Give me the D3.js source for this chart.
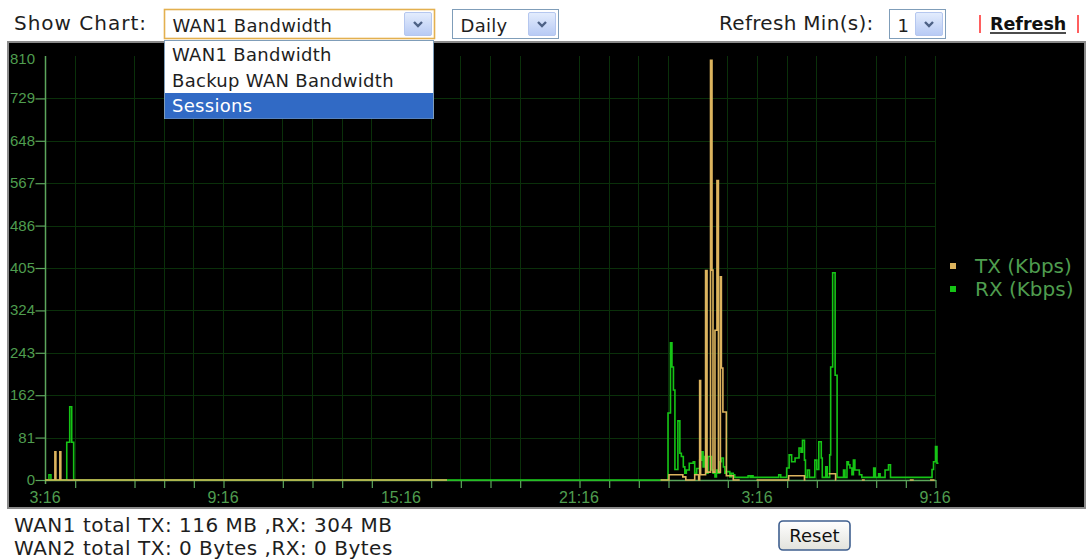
<!DOCTYPE html>
<html>
<head>
<meta charset="utf-8">
<script src="https://cdn.jsdelivr.net/npm/d3@7"></script>
<style>
  html, body { margin: 0; padding: 0; background: #fff; }
  svg { display: block; }
  text { font-family: "DejaVu Sans", sans-serif; }
</style>
</head>
<body>
<svg id="page" width="1088" height="560"></svg>
<script>
// ---- data -------------------------------------------------------------
// minutes after 3:16 (the left edge of the time axis)
const yTickValues = [0, 81, 162, 243, 324, 405, 486, 567, 648, 729, 810];
const xLabelMinutes = [0, 360, 720, 1080, 1440, 1800];
const xLabels = ["3:16", "9:16", "15:16", "21:16", "3:16", "9:16"];
const hourTickMinutes = [60, 180, 240, 300, 360, 480, 540, 600, 660, 780, 840, 900, 960,
  1080, 1140, 1200, 1260, 1380, 1440, 1500, 1560, 1680, 1740, 1800];

const seriesNames = ["TX (Kbps)", "RX (Kbps)"];

// [minute, Kbps]; null = no sample
const txPoints = [
  [0, 0], [20, 54], [22, 0], [30, 54], [32, 0], [813, 0], [814, null],
  [1245, 0], [1262, 10], [1290, 6], [1296, 0], [1314, 10], [1322, 0], [1324, 190], [1326, 10],
  [1336, 400], [1339, 15], [1346, 802], [1349, 401], [1351, 15], [1355, 286], [1359, 572],
  [1362, 15], [1366, 388], [1368, 214], [1371, 130], [1378, 8], [1392, 0], [1405, 0], [1406, null],
  [1439, 0], [1504, 8], [1536, 0], [1538, 0], [1539, null],
  [1585, 12], [1599, 0], [1600, 0], [1601, null],
  [1652, 0], [1658, 0], [1659, null],
  [1749, 0], [1757, 0], [1758, null],
  [1790, 0], [1799, 0], [1800, null]
];

const rxPoints = [
  [0, 0], [8, 10], [12, 0], [44, 72], [50, 140], [54, 72], [58, 0],
  [1257, 0], [1260, 128], [1265, 262], [1268, 216], [1271, 172], [1274, 20], [1280, 113],
  [1284, 51], [1287, 45], [1291, 25], [1294, 13], [1297, 19], [1303, 32], [1311, 35], [1314, 13],
  [1318, 22], [1324, 38], [1328, 54], [1331, 25], [1334, 45], [1338, 13], [1341, 45], [1348, 19],
  [1351, 13], [1355, 6], [1358, 19], [1361, 13], [1365, 35], [1368, 42], [1372, 25], [1375, 13],
  [1378, 16], [1385, 6], [1388, 13], [1392, 10], [1395, 5], [1422, 8], [1426, 5], [1429, 8],
  [1432, 5], [1484, 10], [1488, 5],
  [1500, 23], [1505, 48], [1510, 35], [1517, 42], [1525, 61], [1529, 53], [1532, 76], [1536, 38],
  [1538, 5], [1542, 19], [1546, 5], [1557, 38], [1561, 20], [1565, 73], [1570, 42], [1572, 5],
  [1579, 25], [1582, 5], [1587, 48], [1589, 216], [1593, 396], [1598, 200], [1602, 5], [1615, 19],
  [1618, 5], [1622, 35], [1625, 29], [1628, 23], [1632, 10], [1635, 38], [1638, 19], [1642, 19],
  [1647, 10], [1652, 5], [1676, 23], [1679, 5], [1686, 12], [1689, 5], [1699, 19], [1706, 29],
  [1710, 5], [1794, 20], [1797, 35], [1801, 64], [1804, 32], [1807, 32]
];

const chartOptions = ["WAN1 Bandwidth", "Backup WAN Bandwidth", "Sessions"];
const selectedChart = "WAN1 Bandwidth";
const highlightedOption = "Sessions";
const periodOption = "Daily";
const refreshMinutes = "1";
const totalsLines = ["WAN1 total TX: 116 MB ,RX: 304 MB", "WAN2 total TX: 0 Bytes ,RX: 0 Bytes"];

// ---- styles -------------------------------------------------------------
const TX_COLOR = "#dcb45e";
const RX_COLOR = "#16c416";
const AXIS_COLOR = "#5ca65c";
const LABEL_COLOR = "#4f9d4f";
const GRID_COLOR = "#0a300a";

const svg = d3.select("#page");
const defs = svg.append("defs");
const btnGrad = defs.append("linearGradient").attr("id", "btnGrad")
  .attr("x1", 0).attr("y1", 0).attr("x2", 0).attr("y2", 1);
btnGrad.append("stop").attr("offset", "0%").attr("stop-color", "#e4edfd");
btnGrad.append("stop").attr("offset", "100%").attr("stop-color", "#b7caf4");
const resetGrad = defs.append("linearGradient").attr("id", "resetGrad")
  .attr("x1", 0).attr("y1", 0).attr("x2", 0).attr("y2", 1);
resetGrad.append("stop").attr("offset", "0%").attr("stop-color", "#ffffff");
resetGrad.append("stop").attr("offset", "100%").attr("stop-color", "#e2e2dc");

// ---- chart panel ---------------------------------------------------------
svg.append("rect").attr("x", 8).attr("y", 42).attr("width", 1077).attr("height", 466)
  .attr("fill", "#000").attr("stroke", "#8a8a8a").attr("stroke-width", 2);

const x = d3.scaleLinear().domain([0, 1800]).range([45, 935]);
const y = d3.scaleLinear().domain([0, 810]).range([480, 56]);

const plot = svg.append("g");

// grid
plot.append("g").selectAll("line").data(hourTickMinutes).join("line")
  .attr("x1", d => Math.round(x(d)) + 0.5).attr("x2", d => Math.round(x(d)) + 0.5)
  .attr("y1", y(810)).attr("y2", y(0))
  .attr("stroke", GRID_COLOR).attr("stroke-width", 1);
plot.append("g").selectAll("line").data(yTickValues.filter(v => v > 0 && v < 810)).join("line")
  .attr("x1", x(0)).attr("x2", x(1800))
  .attr("y1", d => Math.round(y(d)) + 0.5).attr("y2", d => Math.round(y(d)) + 0.5)
  .attr("stroke", GRID_COLOR).attr("stroke-width", 1);

// x axis: hourly ticks
const xAxis = d3.axisBottom(x).tickValues(hourTickMinutes).tickSize(8).tickFormat("").tickSizeOuter(0);
const gx = plot.append("g").attr("transform", `translate(0.5,${y(0)})`).call(xAxis);
gx.select(".domain").attr("stroke", AXIS_COLOR).attr("stroke-width", 1.5);
gx.selectAll(".tick line").attr("stroke", AXIS_COLOR).attr("stroke-width", 1.2);

// x labels
plot.append("g").selectAll("text").data(xLabelMinutes).join("text")
  .attr("x", d => x(d)).attr("y", 503)
  .attr("text-anchor", "middle")
  .style("font-family", "'Liberation Sans', Arial, sans-serif")
  .style("font-size", "16px")
  .attr("fill", LABEL_COLOR)
  .text((d, i) => xLabels[i]);

// y axis
const yAxis = d3.axisLeft(y).tickValues(yTickValues.filter(v => v < 810)).tickSize(10)
  .tickFormat("").tickSizeOuter(0);
const gy = plot.append("g").attr("transform", `translate(${x(0) + 0.5},0)`).call(yAxis);
gy.select(".domain").attr("stroke", AXIS_COLOR).attr("stroke-width", 1.5)
  .attr("d", `M0,${y(810)}V${y(0) + 4}`);
gy.selectAll(".tick line").attr("stroke", AXIS_COLOR).attr("stroke-width", 1.2);

plot.append("g").selectAll("text").data(yTickValues).join("text")
  .attr("x", 35).attr("y", d => Math.max(y(d), 59) + 5)
  .attr("text-anchor", "end")
  .style("font-family", "'Liberation Sans', Arial, sans-serif")
  .style("font-size", "15px")
  .attr("fill", LABEL_COLOR)
  .text(d => d);

// series
const line = d3.line()
  .defined(d => d[1] != null)
  .x(d => x(d[0]))
  .y(d => y(d[1]))
  .curve(d3.curveStepAfter);

plot.append("path").datum(rxPoints).attr("d", line)
  .attr("fill", "none").attr("stroke", RX_COLOR).attr("stroke-width", 1.6);
plot.append("path").datum(txPoints).attr("d", line)
  .attr("fill", "none").attr("stroke", TX_COLOR).attr("stroke-width", 1.6);

// legend
const legend = svg.append("g").attr("transform", "translate(950,266)");
const legendColors = [TX_COLOR, RX_COLOR];
const li = legend.selectAll("g").data(seriesNames).join("g")
  .attr("transform", (d, i) => `translate(0,${i * 23})`);
li.append("rect").attr("x", 0).attr("y", -3).attr("width", 6).attr("height", 6)
  .attr("fill", (d, i) => legendColors[i]);
li.append("text").attr("x", 25).attr("y", 7)
  .style("font-size", "20px").attr("fill", LABEL_COLOR).text(d => d);

// ---- controls above the chart --------------------------------------------
const TEXT_DARK = "#1e1e1e";

function dropButton(g, bx, by, bw, bh) {
  g.append("rect").attr("x", bx).attr("y", by).attr("width", bw).attr("height", bh)
    .attr("rx", 1.5).attr("fill", "url(#btnGrad)").attr("stroke", "#b5c7ef").attr("stroke-width", 1);
  const cx = bx + bw / 2, cy = by + bh / 2;
  g.append("path").attr("d", `M${cx - 4},${cy - 2}L${cx},${cy + 2}L${cx + 4},${cy - 2}`)
    .attr("fill", "none").attr("stroke", "#4d6185").attr("stroke-width", 2.4);
}

function selectBox(sx, sy, sw, sh, label, borderColor, borderWidth) {
  const g = svg.append("g");
  g.append("rect").attr("x", sx).attr("y", sy).attr("width", sw).attr("height", sh)
    .attr("fill", "#fff").attr("stroke", borderColor).attr("stroke-width", borderWidth);
  g.append("text").attr("x", sx + 8).attr("y", sy + 22)
    .style("font-size", "18px").style("letter-spacing", "0.3px")
    .attr("fill", TEXT_DARK).text(label);
  dropButton(g, sx + sw - 30, sy + 3, 27, sh - 6);
  return g;
}

svg.append("text").attr("x", 14).attr("y", 30).style("font-size", "20px")
  .style("letter-spacing", "1px").attr("fill", TEXT_DARK).text("Show Chart:");
selectBox(164.5, 9.5, 270, 29, selectedChart, "#e3b04f", 1.6);
selectBox(452.5, 9.5, 106, 29, periodOption, "#7f9db9", 1);
svg.append("text").attr("x", 719).attr("y", 30).style("font-size", "20px")
  .style("letter-spacing", "0.3px").attr("fill", TEXT_DARK).text("Refresh Min(s):");
selectBox(889.5, 9.5, 56, 29, refreshMinutes, "#7f9db9", 1);

svg.append("line").attr("x1", 980).attr("x2", 980).attr("y1", 15).attr("y2", 33)
  .attr("stroke", "#ff2a2a").attr("stroke-width", 1.5);
svg.append("line").attr("x1", 1078).attr("x2", 1078).attr("y1", 15).attr("y2", 33)
  .attr("stroke", "#ff2a2a").attr("stroke-width", 1.5);
svg.append("text").attr("x", 990).attr("y", 30).style("font-size", "17.5px")
  .style("font-weight", "bold").attr("fill", "#111").text("Refresh");
svg.append("line").attr("x1", 990).attr("x2", 1066).attr("y1", 33).attr("y2", 33)
  .attr("stroke", "#111").attr("stroke-width", 1.4);

// open option list of the chart selector
const menu = svg.append("g");
menu.append("rect").attr("x", 164.5).attr("y", 40.5).attr("width", 269).attr("height", 78)
  .attr("fill", "#fff").attr("stroke", "#7f9db9").attr("stroke-width", 1);
const rowH = 25.5;
menu.selectAll("rect.hl").data(chartOptions.filter(o => o === highlightedOption)).join("rect")
  .attr("class", "hl")
  .attr("x", 165).attr("y", 41 + chartOptions.indexOf(highlightedOption) * rowH + 1)
  .attr("width", 268).attr("height", rowH)
  .attr("fill", "#316ac5");
menu.selectAll("text").data(chartOptions).join("text")
  .attr("x", 172).attr("y", (d, i) => 61 + i * rowH)
  .style("font-size", "18px").style("letter-spacing", "0.3px")
  .attr("fill", d => d === highlightedOption ? "#fff" : TEXT_DARK)
  .text(d => d);

// ---- totals and reset button ---------------------------------------------
svg.append("g").selectAll("text").data(totalsLines).join("text")
  .attr("x", 14).attr("y", (d, i) => 532 + i * 23)
  .style("font-size", "20px").style("letter-spacing", "0.5px")
  .attr("fill", TEXT_DARK).text(d => d);

const reset = svg.append("g");
reset.append("rect").attr("x", 779).attr("y", 521).attr("width", 71).attr("height", 29).attr("rx", 4)
  .attr("fill", "url(#resetGrad)").attr("stroke", "#3f5f8f").attr("stroke-width", 1.6);
reset.append("text").attr("x", 814.5).attr("y", 542).attr("text-anchor", "middle")
  .style("font-size", "18px").attr("fill", "#111").text("Reset");
</script>
</body>
</html>
